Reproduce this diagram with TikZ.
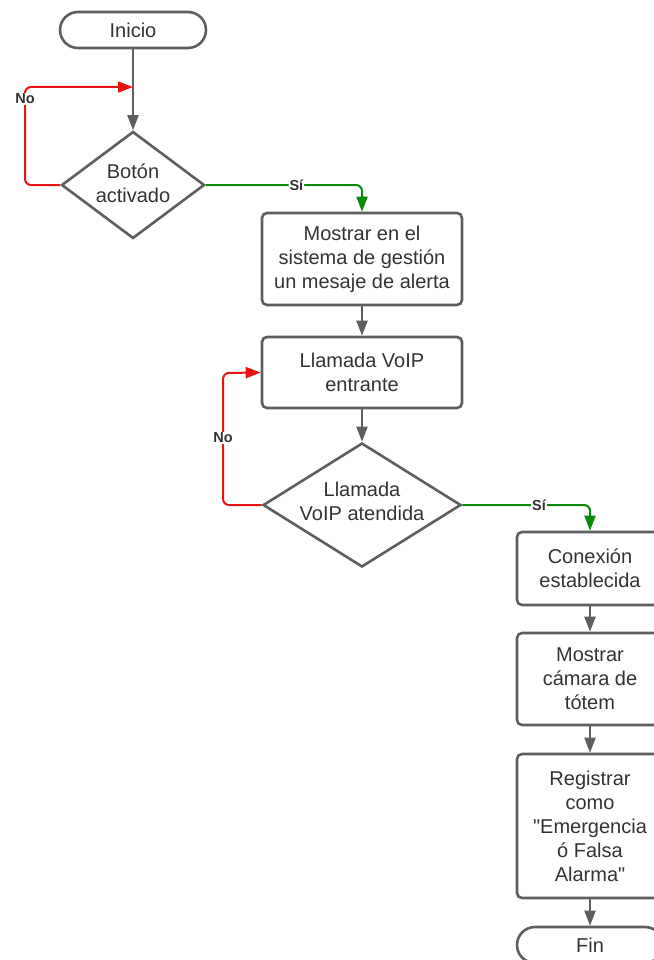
\documentclass[tikz,border=0pt]{standalone}
\usepackage{fontspec}
\setmainfont{Liberation Sans}[Ligatures=TeXOff]
\usetikzlibrary{arrows.meta,shapes.geometric}
\definecolor{edge}{HTML}{5E5E5E}
\definecolor{ink}{HTML}{333333}
\definecolor{nored}{HTML}{E81313}
\definecolor{yesgreen}{HTML}{0C8A0C}

\begin{document}
\begin{tikzpicture}[x=1pt,y=-1pt,
  every node/.style={font=\fontsize{20}{24}\selectfont, text=ink},
  shapeline/.style={draw=edge, line width=2.6pt, fill=white},
  terminal/.style={shapeline, rectangle, rounded corners=18pt, inner sep=0pt},
  process/.style={shapeline, rectangle, rounded corners=5pt, inner sep=0pt, align=center},
  decision/.style={shapeline, diamond, inner sep=0pt},
  caption/.style={align=center, inner sep=0pt},
  flow/.style={draw=edge, line width=2pt, -{Triangle[length=15pt,width=11pt]}},
  noflow/.style={flow, draw=nored, rounded corners=6pt},
  yesflow/.style={flow, draw=yesgreen, rounded corners=6pt},
  tag/.style={font=\bfseries\fontsize{14.5}{16}\selectfont, fill=white, inner sep=1pt, text=ink}]

\useasboundingbox (0,0) rectangle (653,960);

% shapes
\node[terminal, minimum width=146, minimum height=36] (start) at (133,30) {Inicio};
\node[decision, minimum width=143, minimum height=107] (d1) at (133,185) {};
\node[caption] (d1t) at (133,183) {Botón\\activado};
\node[process, minimum width=200, minimum height=92] (b1) at (362,259)
  {Mostrar en el\\sistema de gestión\\un mesaje de alerta};
\node[process, minimum width=200, minimum height=71] (b2) at (362,372.5)
  {Llamada VoIP\\entrante};
\node[decision, minimum width=198, minimum height=124] (d2) at (362,505) {};
\node[caption] (d2t) at (362,501) {Llamada\\VoIP atendida};
\node[process, minimum width=146, minimum height=73] (b3) at (590,568.5)
  {Conexión\\establecida};
\node[process, minimum width=146, minimum height=92] (b4) at (590,679)
  {Mostrar\\cámara de\\tótem};
\node[process, minimum width=146, minimum height=144] (b5) at (590,826)
  {Registrar\\como\\"Emergencia\\ó Falsa\\Alarma"};
\node[terminal, minimum width=146, minimum height=36] (fin) at (590,945) {Fin};

% main flow
\draw[flow] (start.south) -- (d1.north);
\draw[flow] (b1.south) -- (b2.north);
\draw[flow] (b2.south) -- (d2.north);
\draw[flow] (b3.south) -- (b4.north);
\draw[flow] (b4.south) -- (b5.north);
\draw[flow] (b5.south) -- (fin.north);

% "No" loops
\coordinate (j1) at (133,87);
\coordinate (k1) at (25,87);
\draw[noflow] (d1.west) -| (k1) -- (j1);
\node[tag] (no1) at (25,99) {No};

\coordinate (k2) at (223,373);
\draw[noflow] (d2.west) -| (k2) -- (b2.west);
\node[tag] (no2) at (223,438) {No};

% "Sí" branches
\draw[yesflow] (d1.east) -| (b1.north) node[tag, pos=0.29] (si1) {Sí};
\draw[yesflow] (d2.east) -| (b3.north) node[tag, pos=0.3] (si2) {Sí};

\end{tikzpicture}
\end{document}
